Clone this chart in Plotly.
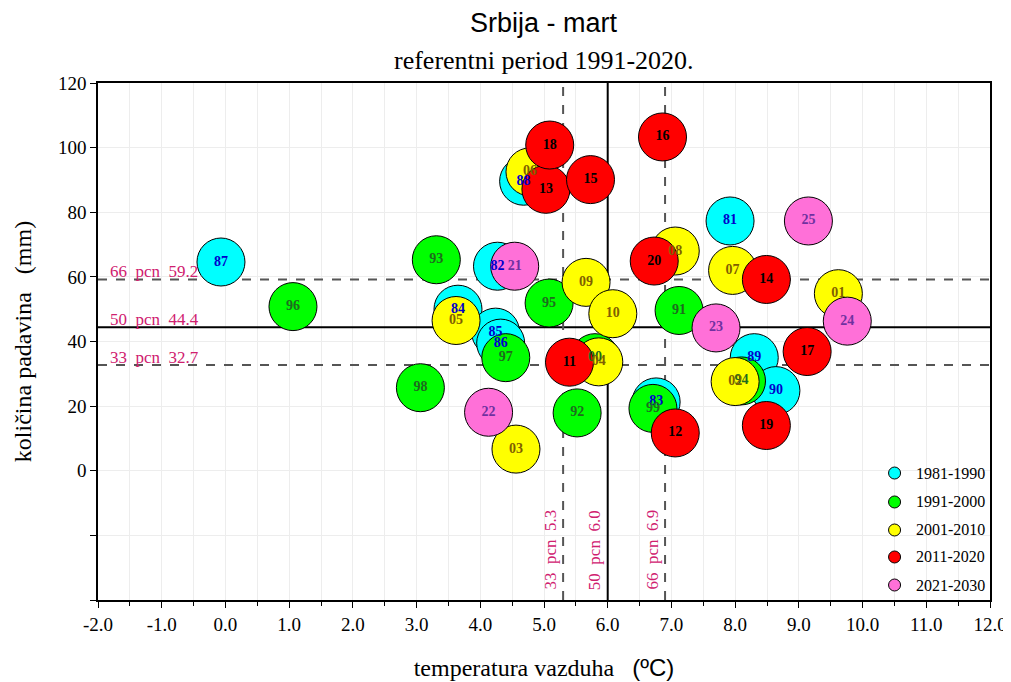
import plotly.graph_objects as go

decades = ["1981-1990", "1991-2000", "2001-2010", "2011-2020", "2021-2030"]
fill_colors = ["#00FFFF", "#00FF00", "#FFFF00", "#FF0000", "#FF70D8"]
text_colors = ["#0000CC", "#1E6B1E", "#7F5F00", "#000000", "#7030A0"]

labels_80s = ["81", "82", "83", "84", "85", "86", "87", "88", "89", "90"]
temp_80s = [7.92, 4.27, 6.76, 3.65, 4.24, 4.32, -0.07, 4.68, 8.30, 8.64]
prec_80s = [77.3, 63.3, 21.3, 50.0, 42.9, 39.5, 64.6, 89.6, 35.0, 24.8]

labels_90s = ["91", "92", "93", "94", "95", "96", "97", "98", "99", "00"]
temp_90s = [7.12, 5.52, 3.31, 8.10, 5.08, 1.06, 4.40, 3.06, 6.71, 5.80]
prec_90s = [49.6, 17.9, 65.3, 27.8, 51.9, 50.8, 35.0, 25.7, 19.3, 35.0]

labels_00s = ["01", "02", "03", "04", "05", "06", "07", "08", "09", "10"]
temp_00s = [9.62, 8.00, 4.56, 5.86, 3.62, 4.78, 7.96, 7.06, 5.66, 6.08]
prec_00s = [54.8, 27.6, 6.7, 33.7, 46.5, 92.5, 62.0, 68.0, 58.3, 48.6]

labels_10s = ["11", "12", "13", "14", "15", "16", "17", "18", "19", "20"]
temp_10s = [5.40, 7.06, 5.03, 8.49, 5.73, 6.86, 9.13, 5.09, 8.49, 6.73]
prec_10s = [33.6, 11.7, 87.1, 59.2, 90.1, 103.3, 36.9, 100.8, 14.0, 64.9]

labels_20s = ["21", "22", "23", "24", "25"]
temp_20s = [4.54, 4.13, 7.70, 9.76, 9.15]
prec_20s = [63.3, 18.1, 44.2, 46.3, 77.3]

# percentiles
p_prec = [32.7, 44.4, 59.2]
p_prec_names = ["33", "50", "66"]
p_temp = [5.3, 6.0, 6.9]
p_temp_names = ["33", "50", "66"]

x_ticks = [-2, -1, 0, 1, 2, 3, 4, 5, 6, 7, 8, 9, 10, 11, 12]
x_ticktext = ["-2.0", "-1.0", "0.0", "1.0", "2.0", "3.0", "4.0", "5.0", "6.0",
              "7.0", "8.0", "9.0", "10.0", "11.0", "12.0"]
y_ticks = [-40, -20, 0, 20, 40, 60, 80, 100, 120]
y_ticktext = ["", "", "0", "20", "40", "60", "80", "100", "120"]

groups = [
    (labels_80s, temp_80s, prec_80s),
    (labels_90s, temp_90s, prec_90s),
    (labels_00s, temp_00s, prec_00s),
    (labels_10s, temp_10s, prec_10s),
    (labels_20s, temp_20s, prec_20s),
]

x_range = [-2, 12]
y_range = [-40, 120]
SERIF = "Liberation Serif, Times New Roman, serif"
SANS = "Liberation Sans, Arial, sans-serif"

fig = go.Figure()

# reference lines
for i, v in enumerate(p_prec):
    solid = p_prec_names[i] == "50"
    fig.add_trace(go.Scatter(
        x=x_range, y=[v, v], mode="lines", showlegend=False, hoverinfo="skip",
        line=dict(color="#000000" if solid else "#555555", width=2,
                  dash="solid" if solid else "dash")))
for i, v in enumerate(p_temp):
    solid = p_temp_names[i] == "50"
    fig.add_trace(go.Scatter(
        x=[v, v], y=y_range, mode="lines", showlegend=False, hoverinfo="skip",
        line=dict(color="#000000" if solid else "#555555", width=2,
                  dash="solid" if solid else "dash")))

# bubbles
for (lab, tx, py), name, fc in zip(groups, decades, fill_colors):
    fig.add_trace(go.Scatter(
        x=tx, y=py, mode="markers", name=name, showlegend=False,
        marker=dict(size=48, color=fc, line=dict(color="#000000", width=1)),
    ))
# labels on top
for (lab, tx, py), name, tc in zip(groups, decades, text_colors):
    fig.add_trace(go.Scatter(
        x=tx, y=py, mode="text", text=lab, showlegend=False,
        textposition="middle center",
        textfont=dict(family=SERIF, size=14, color=tc, weight="bold"),
    ))

pcol = "#D0206F"
annotations = []
for i, v in enumerate(p_prec):
    annotations.append(dict(
        x=-1.85, y=v, xref="x", yref="y", xanchor="left", yanchor="bottom",
        text=f"{p_prec_names[i]}\u00a0\u00a0pcn\u00a0\u00a0{v}", showarrow=False, yshift=-4,
        font=dict(family=SERIF, size=17, color=pcol)))
for i, v in enumerate(p_temp):
    annotations.append(dict(
        x=v, y=-37.5, xref="x", yref="y", xanchor="right", yanchor="bottom",
        text=f"{p_temp_names[i]}\u00a0\u00a0pcn\u00a0\u00a0{v:.1f}", showarrow=False, textangle=-90,
        xshift=-1,
        font=dict(family=SERIF, size=17, color=pcol)))

# titles
annotations.append(dict(x=0.5, y=1, xref="paper", yref="paper", yshift=60, yanchor="middle",
                        text="Srbija - mart", showarrow=False,
                        font=dict(family=SANS, size=27, color="#000")))
annotations.append(dict(x=0.5, y=1, xref="paper", yref="paper", yshift=23, yanchor="middle",
                        text="referentni period 1991-2020.", showarrow=False,
                        font=dict(family=SERIF, size=26, color="#000")))

# legend (manual)
leg_y = [0.2456, 0.1896, 0.1354, 0.0832, 0.029]
shapes = []
for name, fc, yy in zip(decades, fill_colors, leg_y):
    shapes.append(dict(type="circle", xref="paper", yref="paper", xsizemode="pixel",
                       ysizemode="pixel", xanchor=0.893, yanchor=yy, x0=-6, x1=6, y0=-6, y1=6,
                       fillcolor=fc, line=dict(color="#000000", width=1)))
    annotations.append(dict(x=0.915, y=yy, xref="paper", yref="paper", xanchor="left",
                            yanchor="middle", text=name, showarrow=False,
                            font=dict(family=SERIF, size=16, color="#000")))

# the page body has an 8px margin, so the figure is offset by 8px
fig.update_layout(
    width=1003, height=674,
    margin=dict(l=90, r=21, t=75, b=82, autoexpand=False),
    paper_bgcolor="white", plot_bgcolor="white",
    showlegend=False,
    annotations=annotations,
    shapes=shapes,
)

fig.update_xaxes(
    range=x_range, tickvals=x_ticks, ticktext=x_ticktext, automargin=False,
    ticks="outside", ticklen=6, tickcolor="#000",
    showline=True, linecolor="#000", linewidth=1.5, mirror=True,
    showgrid=True, gridcolor="#EDEDED", gridwidth=1, zeroline=False,
    minor=dict(dtick=0.5, tick0=0, ticks="outside", ticklen=4, tickcolor="#000",
               showgrid=True, gridcolor="#EDEDED"),
    tickfont=dict(family=SERIF, size=19, color="#000"),
    title=dict(text="temperatura vazduha \u00a0\u00a0<span style=\"font-family:Liberation Sans\">(\u00baC)</span>",
               font=dict(family=SERIF, size=24, color="#000"), standoff=26),
)
fig.update_yaxes(
    range=y_range, tickvals=y_ticks, ticktext=y_ticktext, automargin=False,
    ticks="outside", ticklen=6, tickcolor="#000",
    showline=True, linecolor="#000", linewidth=1.5, mirror=True,
    showgrid=True, gridcolor="#EDEDED", gridwidth=1, zeroline=False,
    tickfont=dict(family=SERIF, size=19, color="#000"),
    title=dict(text="količina padavina \u00a0\u00a0(mm)",
               font=dict(family=SERIF, size=24, color="#000"), standoff=20),
)

fig.write_html("out.html")
